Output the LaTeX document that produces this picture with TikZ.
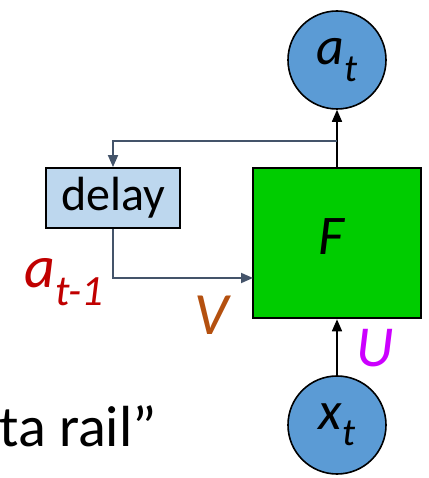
\documentclass[tikz,border=0pt]{standalone}
\usepackage{fontspec}
\setmainfont{Carlito}
\usetikzlibrary{arrows.meta}
\definecolor{unitblue}{HTML}{5B9BD5}
\definecolor{delayblue}{HTML}{BDD7EE}
\definecolor{cellgreen}{HTML}{00CC00}
\definecolor{railgray}{HTML}{44546A}
\definecolor{prevred}{HTML}{C00000}
\definecolor{vbrown}{HTML}{B4500F}
\definecolor{umagenta}{HTML}{CC00FF}
\newcommand\fs[1]{\fontsize{#1}{#1}\selectfont}
\newcommand\vsub[2]{\textit{#1}\raisebox{-0.3em}{\scalebox{0.72}{\textit{#2}}}}
\begin{document}
\begin{tikzpicture}[x=1pt,y=1pt,
  unit/.style={circle, draw=black, line width=1.6pt, fill=unitblue, minimum size=98pt, inner sep=0pt, font=\fs{54}},
  rail/.style={draw=railgray, line width=1.8pt},
  tip/.style={-{Triangle[length=12pt,width=10pt]}}]
\useasboundingbox (0,0) rectangle (428,478);
\clip (0,0) rectangle (428,478);
\node [unit] (a) at (337,418) {\vsub{a}{t}};
\node [unit] (x) at (337,53) {\vsub{x}{t}};
\node [draw=black, line width=2.6pt, fill=cellgreen, minimum width=168pt, minimum height=150pt] (F) at (337,235) {};
\node [font=\fs{56}\itshape, inner sep=0pt] (Flab) at (331,241) {F};
\node [draw=black, line width=1.8pt, fill=delayblue, minimum width=134pt, minimum height=60pt, inner sep=0pt, font=\fs{48}] (d) at (113,280) {delay};
\coordinate (split) at (337,337);
\coordinate (vin) at (253,200);
\draw [line width=1.6pt, tip] (F.north) -- (a.south);
\draw [line width=1.6pt, tip] (x.north) -- (F.south);
\draw [rail, tip, railgray] (split) -| (d.north);
\draw [rail, tip, railgray] (d.south) |- (vin);
\node [anchor=base west, text=prevred, font=\fs{60}, inner sep=0pt] (prev) at (24,190) {\vsub{a}{t-1}};
\node [text=vbrown, font=\fs{60}\itshape, inner sep=0pt] (V) at (212,163) {V};
\node [text=umagenta, font=\fs{58}\itshape, inner sep=0pt] (U) at (375,130) {U};
\node [anchor=base east, font=\fs{58}, inner sep=0pt] (rail) at (157,31) {ta rail”};
\end{tikzpicture}
\end{document}
